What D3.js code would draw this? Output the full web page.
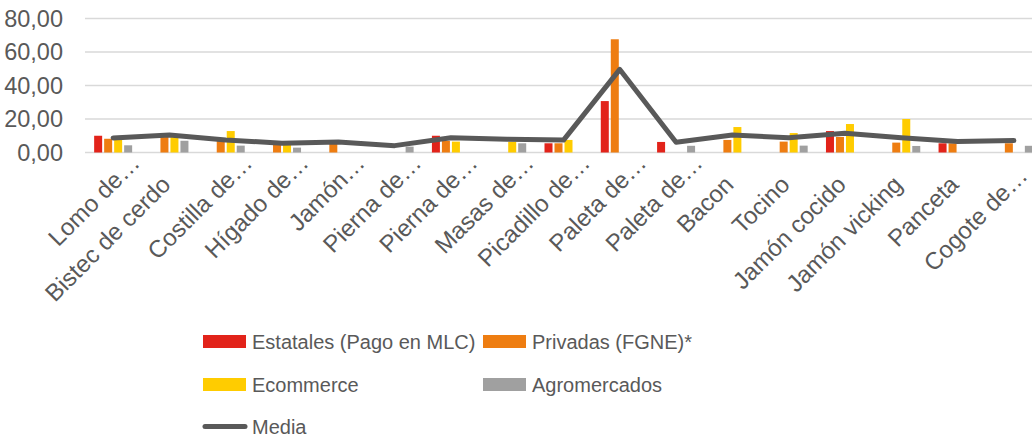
<!DOCTYPE html>
<html>
<head>
<meta charset="utf-8">
<script src="https://cdn.jsdelivr.net/npm/d3@7"></script>
<style>
  body { margin: 0; background: #fff; }
  svg { display: block; font-family: "Liberation Sans", Arial, sans-serif; }
  .y-label { fill: #595959; font-size: 23.5px; }
  .x-label { fill: #595959; font-size: 24px; }
  .legend-label { fill: #595959; font-size: 20px; }
</style>
</head>
<body>
<div id="chart"></div>
<script>
const categories = [
  'Lomo de…', 'Bistec de cerdo', 'Costilla de…', 'Hígado de…', 'Jamón…',
  'Pierna de…', 'Pierna de…', 'Masas de…', 'Picadillo de…', 'Paleta de…',
  'Paleta de…', 'Bacon', 'Tocino', 'Jamón cocido', 'Jamón vicking',
  'Panceta', 'Cogote de…'
];

const estatales = [10, null, null, null, null, null, 10, null, 5.5, 30.7, 6.3, null, null, 12.8, null, 5.5, null];
const privadas = [8.2, 9.5, 8, 5.5, 5.5, null, 7, null, 5.5, 67.6, null, 7.5, 6.5, 9.3, 5.9, 5.5, 5.5];
const ecommerce = [8, 9.5, 12.8, 4.5, null, null, 6.5, 6.4, 7.5, null, null, 15.2, 11.6, 17, 20, null, null];
const agromercados = [4.3, 7, 4.1, 2.9, null, 3.5, null, 5.5, null, null, 4, null, 4.1, null, 3.9, null, 4];
const media = [8.7, 10.4, 7.5, 5.5, 6.2, 4.1, 8.8, 7.9, 7.4, 49.6, 6.1, 10.4, 8.8, 11.5, 8.8, 6.5, 7.1];

const yTicks = [0, 20, 40, 60, 80];

const barSeries = [
  { name: 'Estatales (Pago en MLC)', values: estatales, color: '#E2231A' },
  { name: 'Privadas (FGNE)*', values: privadas, color: '#EE7D11' },
  { name: 'Ecommerce', values: ecommerce, color: '#FFCC00' },
  { name: 'Agromercados', values: agromercados, color: '#A0A0A0' }
];

const width = 1032;
const height = 436;
const plot = { left: 85, right: 1042, top: 18.5, bottom: 152.5 };

const svg = d3.select('#chart')
  .append('svg')
  .attr('width', width)
  .attr('height', height);

const x = d3.scaleBand()
  .domain(d3.range(categories.length))
  .range([plot.left, plot.right]);

const x1 = d3.scaleBand()
  .domain(barSeries.map(s => s.name))
  .range([-19, 19])
  .paddingInner(0.2);

const y = d3.scaleLinear()
  .domain([0, 80])
  .range([plot.bottom, plot.top]);

const locale = d3.formatLocale({ decimal: ',', thousands: '.', grouping: [3], currency: ['', ''] });
const fmt = locale.format('.2f');

// gridlines
svg.append('g')
  .selectAll('line')
  .data(yTicks)
  .join('line')
  .attr('x1', plot.left)
  .attr('x2', width)
  .attr('y1', d => y(d))
  .attr('y2', d => y(d))
  .attr('stroke', '#D9D9D9')
  .attr('stroke-width', 1.5);

// y labels
svg.append('g')
  .selectAll('text')
  .data(yTicks)
  .join('text')
  .attr('class', 'y-label')
  .attr('x', 63)
  .attr('y', d => y(d))
  .attr('dy', '0.35em')
  .attr('text-anchor', 'end')
  .text(d => fmt(d));

// bars
const center = i => x(i) + x.bandwidth() / 2;

barSeries.forEach(s => {
  svg.append('g')
    .selectAll('rect')
    .data(s.values.map((v, i) => ({ v, i })).filter(d => d.v != null))
    .join('rect')
    .attr('x', d => center(d.i) + x1(s.name))
    .attr('width', x1.bandwidth())
    .attr('y', d => y(d.v))
    .attr('height', d => y(0) - y(d.v))
    .attr('fill', s.color);
});

// media line
const line = d3.line()
  .x((d, i) => center(i))
  .y(d => y(d));

svg.append('path')
  .datum(media)
  .attr('d', line)
  .attr('fill', 'none')
  .attr('stroke', '#595959')
  .attr('stroke-width', 5)
  .attr('stroke-linecap', 'round')
  .attr('stroke-linejoin', 'round');

// x labels (truncated ones sit further along, like excel does it)
svg.append('g')
  .selectAll('text')
  .data(categories)
  .join('text')
  .attr('class', 'x-label')
  .attr('text-anchor', 'end')
  .attr('transform', (d, i) => {
    const cut = d.endsWith('…');
    let tx = center(i) + (cut ? 28 : 2.5);
    let ty = cut ? 164.5 : 186;
    // keep the last label inside the picture
    const over = tx - (width - 3);
    if (over > 0) {
      tx -= over;
      ty += over;
    }
    return `translate(${tx}, ${ty}) rotate(-45)`;
  })
  .text(d => d);

// legend
const legendItems = [
  { ...barSeries[0], x: 203, y: 341.5, type: 'rect' },
  { ...barSeries[1], x: 483, y: 341.5, type: 'rect' },
  { ...barSeries[2], x: 203, y: 384.5, type: 'rect' },
  { ...barSeries[3], x: 483, y: 384.5, type: 'rect' },
  { name: 'Media', color: '#595959', x: 203, y: 426.5, type: 'line' }
];

const legend = svg.append('g')
  .selectAll('g')
  .data(legendItems)
  .join('g')
  .attr('transform', d => `translate(${d.x}, ${d.y})`);

legend.filter(d => d.type === 'rect')
  .append('rect')
  .attr('x', 0)
  .attr('y', -6.5)
  .attr('width', 43)
  .attr('height', 13)
  .attr('fill', d => d.color);

legend.filter(d => d.type === 'line')
  .append('line')
  .attr('x1', 2)
  .attr('x2', 42)
  .attr('stroke', d => d.color)
  .attr('stroke-width', 5)
  .attr('stroke-linecap', 'round');

legend.append('text')
  .attr('class', 'legend-label')
  .attr('x', 49)
  .attr('dy', '0.35em')
  .text(d => d.name);
</script>
</body>
</html>
